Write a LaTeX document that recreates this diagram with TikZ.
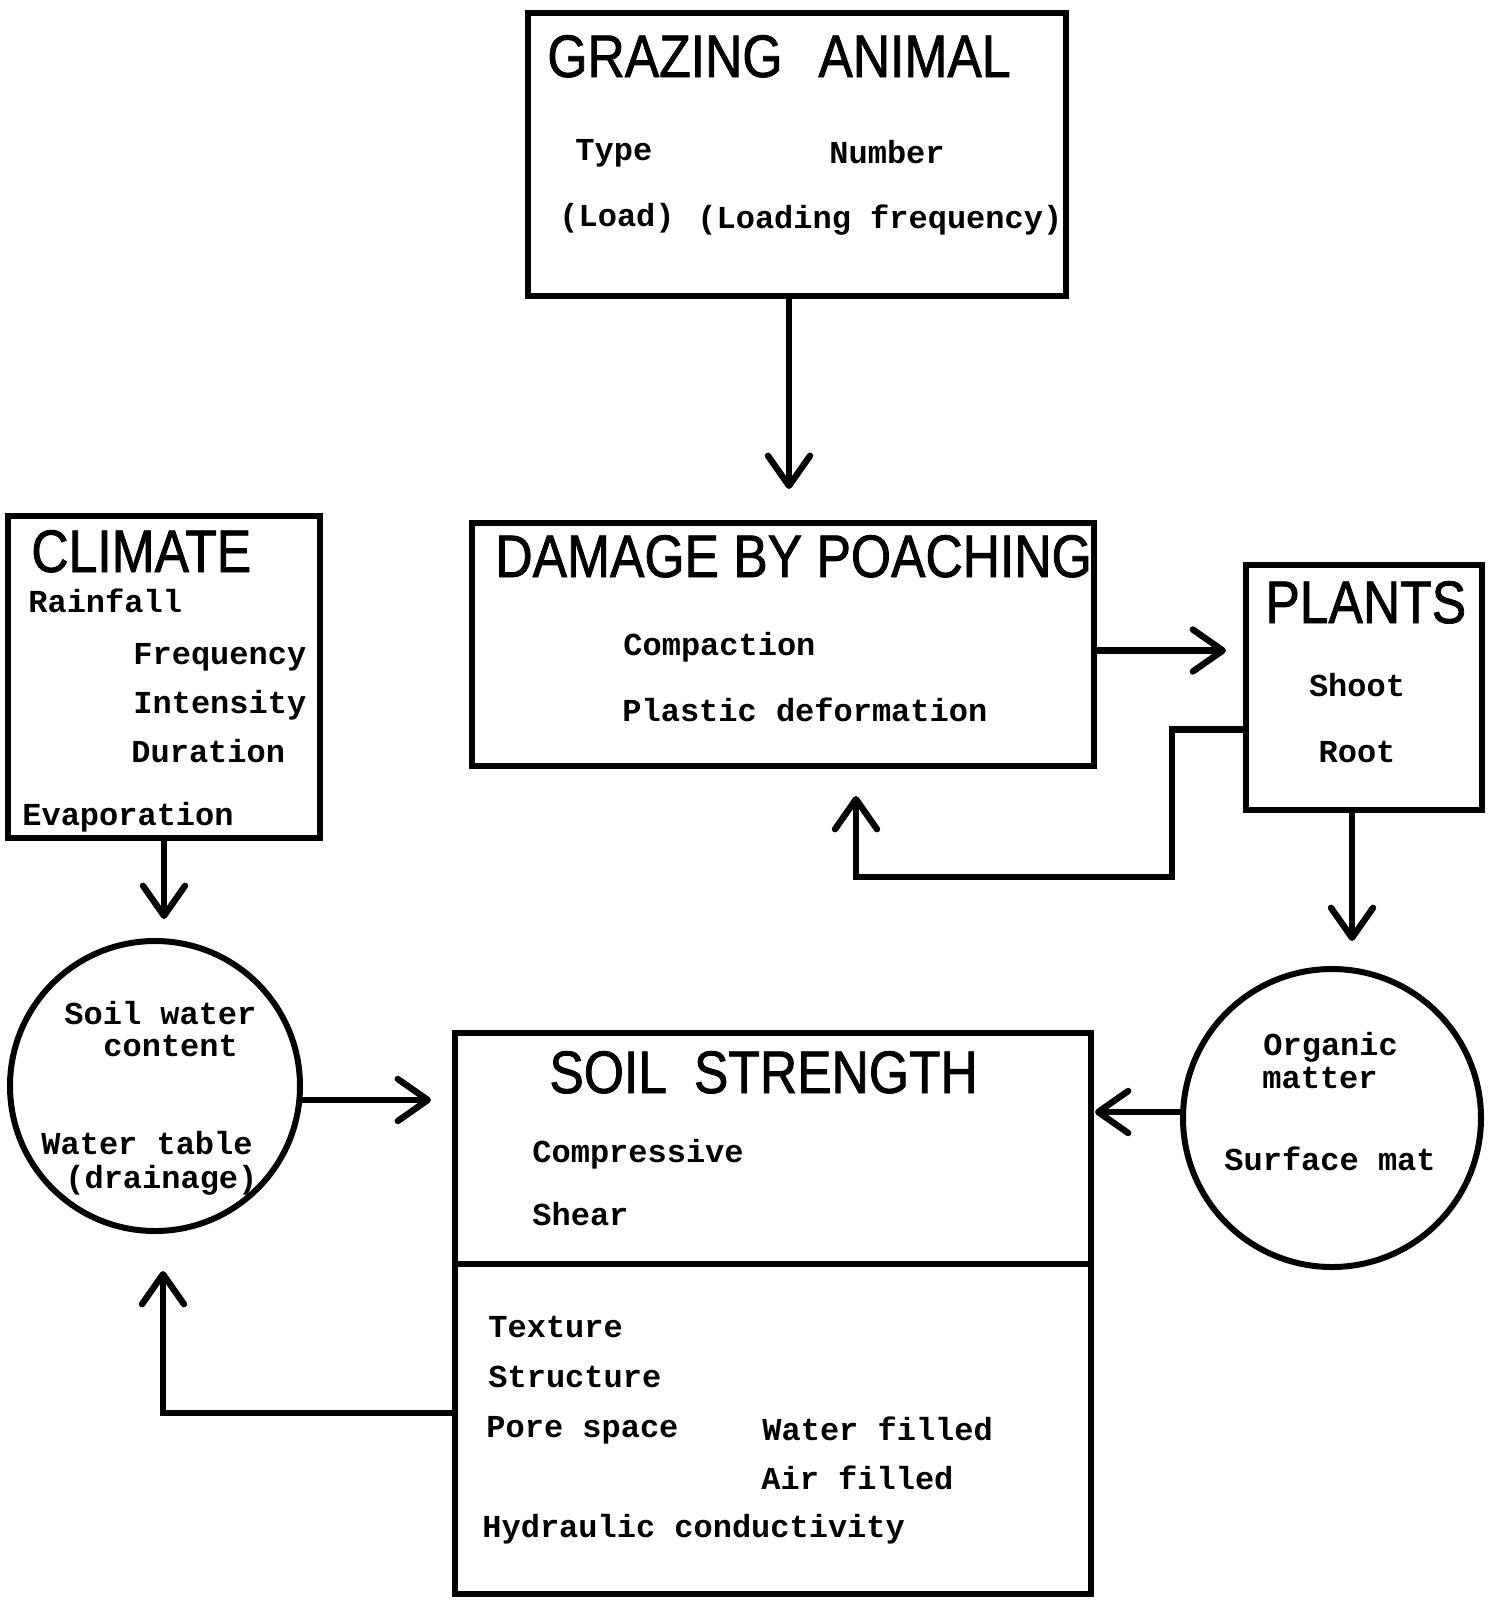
\documentclass[tikz,border=0pt]{standalone}
\usepackage{fontspec}
\newfontfamily\typewr{Liberation Mono}
\newfontfamily\titlefont[FakeStretch=0.86,FakeBold=1.3]{Liberation Sans}
\usetikzlibrary{positioning}
\usetikzlibrary{arrows.meta}

\begin{document}
\begin{tikzpicture}
        [x=0.5pt,y=-0.5pt,
        box/.style={draw,line width=3pt,rectangle,anchor=north west,inner sep=0pt,outer sep=0pt},
        blob/.style={draw,line width=3pt,circle,inner sep=0pt,outer sep=0pt},
        title/.style={anchor=base west,inner sep=0pt,font=\titlefont\fontsize{30pt}{30pt}\selectfont},
        item/.style={anchor=west,inner sep=0pt,text height=11.2pt,text depth=1.6pt,font=\typewr\bfseries\fontsize{16pt}{18pt}\selectfont},
        flow/.style={line width=3.2pt,-{Straight Barb[length=15pt,width=21pt,round]}}]
        \useasboundingbox (0,0) rectangle (1499,1602);

        \node[box,minimum width=269pt,minimum height=141.5pt] (GA) at (528,13) {};
        \node[box,minimum width=311pt,minimum height=121.5pt] (DP) at (472,523) {};
        \node[box,minimum width=118pt,minimum height=122.5pt] (P) at (1246,565) {};
        \node[box,minimum width=156pt,minimum height=161pt] (C) at (8,516) {};
        \node[box,minimum width=318pt,minimum height=115.5pt] (SS) at (455,1033) {};
        \node[box,minimum width=318pt,minimum height=165pt] (SSp) at (455,1264) {};
        \node[blob,minimum size=145pt] (SW) at (155,1086) {};
        \node[blob,minimum size=149pt] (OM) at (1332,1118) {};

        \node[title] (GAt) at (547,77) {GRAZING\hspace{0.6em}ANIMAL};
        \node[title] (DPt) at (495,577) {DAMAGE BY POACHING};
        \node[title] (Pt) at (1265,623) {PLANTS};
        \node[title] (Ct) at (31,572) {CLIMATE};
        \node[title] (SSt) at (549,1093) {SOIL\hspace{0.45em}STRENGTH};

        \node[item] (type) at (575,151) {Type};
        \node[item] (number) at (829,154) {Number};
        \node[item] (load) at (559,217) {(Load)};
        \node[item] (loadfreq) at (697,219) {(Loading frequency)};

        \node[item] (compact) at (623,646) {Compaction};
        \node[item] (plastic) at (622,712) {Plastic deformation};

        \node[item,anchor=center] (shoot) at (1357,687) {Shoot};
        \node[item,anchor=center] (root) at (1357,753) {Root};

        \node[item] (rain) at (28,603) {Rainfall};
        \node[item] (freq) at (133,655) {Frequency};
        \node[item] (intens) at (133,704) {Intensity};
        \node[item] (durat) at (131,753) {Duration};
        \node[item] (evap) at (22,816) {Evaporation};

        \node[item] (soilw) at (64,1015) {Soil water};
        \node[item] (content) at (103,1047) {content};
        \node[item] (wtable) at (41,1145) {Water table};
        \node[item] (drain) at (65,1179) {(drainage)};

        \node[item] (organic) at (1263,1046) {Organic};
        \node[item] (matter) at (1262,1079) {matter};
        \node[item] (surfmat) at (1224,1161) {Surface mat};

        \node[item] (compr) at (532,1153) {Compressive};
        \node[item] (shear) at (532,1216) {Shear};

        \node[item] (texture) at (488,1328) {Texture};
        \node[item] (struct) at (488,1378) {Structure};
        \node[item] (pore) at (486,1428) {Pore space};
        \node[item] (waterf) at (762,1431) {Water filled};
        \node[item] (airf) at (761,1480) {Air filled};
        \node[item] (hydr) at (482,1528) {Hydraulic conductivity};

        \coordinate (pbend) at (1172,877);
        \coordinate (dbend) at (856,877);

        \draw[flow,shorten >=17pt] ([xshift=-4pt]GA.south) -- ([xshift=-4pt]GA.south |- DP.north);
        \draw[flow,shorten >=10pt] ([yshift=-3pt]DP.east) -- ([yshift=-3pt]DP.east -| P.west);
        \draw[flow,shorten >=15pt] ([yshift=-21pt]P.west) -| (pbend) -- (dbend) -- (dbend |- DP.south);
        \draw[flow,shorten >=14pt] ([xshift=-6pt]P.south) -- ([xshift=-6pt]P.south |- OM.north);
        \draw[flow,shorten >=2pt] ([yshift=3pt]OM.west) -- ([yshift=3pt]OM.west -| SS.east);
        \draw[flow,shorten >=11pt] (C.south) -- (C.south |- SW.north);
        \draw[flow,shorten >=12pt] ([yshift=-7pt]SW.east) -- ([yshift=-7pt]SW.east -| SS.west);
        \draw[flow,shorten >=20pt] ([yshift=8pt]SSp.west) -| ([xshift=4pt]SW.south);
\end{tikzpicture}
\end{document}
